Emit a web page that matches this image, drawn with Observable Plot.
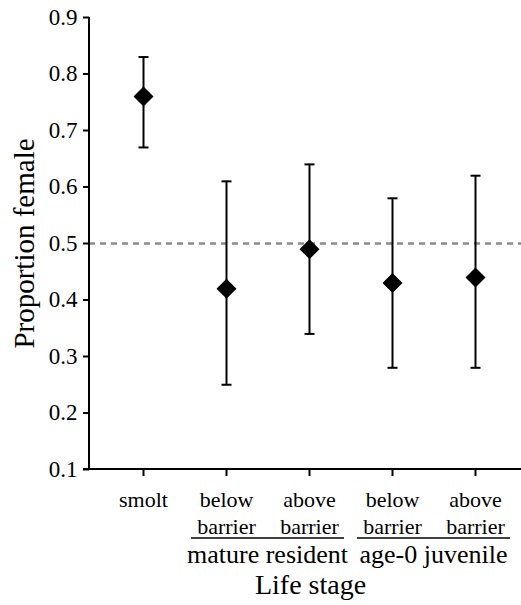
<!DOCTYPE html>
<html><head><meta charset="utf-8">
<script src="https://cdn.jsdelivr.net/npm/d3@7"></script>
<script src="https://cdn.jsdelivr.net/npm/@observablehq/plot@0.6"></script>
<style>
body{margin:0;background:#fff}
#chart svg, #chart svg text{font-family:"Liberation Serif", serif !important;}
#chart .yticks text{font-size:23px !important;}
#chart .xticks text{font-size:22px !important;}
</style>
</head><body><div id="chart"></div>
<script>
const stages = ["smolt", "mr-below", "mr-above", "aj-below", "aj-above"];
const stageLabels = ["smolt", "below\nbarrier", "above\nbarrier", "below\nbarrier", "above\nbarrier"];
const proportion = [0.76, 0.42, 0.49, 0.43, 0.44];
const upper = [0.83, 0.61, 0.64, 0.58, 0.62];
const lower = [0.67, 0.25, 0.34, 0.28, 0.28];
const groupNames = ["mature resident", "age-0 juvenile"];
const groupFirst = ["mr-below", "aj-below"];
const groupLast = ["mr-above", "aj-above"];
const yTicks = [0.1, 0.2, 0.3, 0.4, 0.5, 0.6, 0.7, 0.8, 0.9];
const parity = [0.5];

const data = stages.map((s, i) => ({stage: s, p: proportion[i], lo: lower[i], hi: upper[i]}));
const labelOf = new Map(stages.map((s, i) => [s, stageLabels[i]]));
const capSymbol = {draw(ctx) { ctx.moveTo(-5, 0); ctx.lineTo(5, 0); }};

function axisLines(index, scales, values, dim) {
  const g = d3.create("svg:g").attr("stroke", "black").attr("stroke-width", 2);
  const yb = dim.height - dim.marginBottom;
  g.append("line").attr("x1", dim.marginLeft).attr("x2", dim.marginLeft)
    .attr("y1", dim.marginTop).attr("y2", yb);
  g.append("line").attr("x1", dim.marginLeft - 6).attr("x2", dim.width)
    .attr("y1", yb).attr("y2", yb);
  return g.node();
}

function groupMark(index, scales, values, dim) {
  const x = scales.x;
  const yb = dim.height - dim.marginBottom;
  const g = d3.create("svg:g");
  groupNames.forEach((name, i) => {
    const a = x(groupFirst[i]), b = x(groupLast[i]);
    g.append("line").attr("x1", a - 35).attr("x2", b + 35)
      .attr("y1", yb + 69).attr("y2", yb + 69)
      .attr("stroke", "black").attr("stroke-width", 1.5);
    g.append("text").attr("x", (a + b) / 2).attr("y", yb + 94)
      .attr("text-anchor", "middle").attr("font-size", 26).attr("fill", "black").text(name);
  });
  return g.node();
}

const chart = Plot.plot({
  width: 521,
  height: 605,
  marginLeft: 89,
  marginRight: 0,
  marginTop: 17,
  marginBottom: 136,
  style: {fontFamily: "Liberation Serif", color: "black", background: "white"},
  x: {type: "point", domain: stages, range: [141, 476], padding: 0},
  y: {domain: [0.1, 0.9]},
  marks: [
    Plot.ruleY(parity, {stroke: "#8a8a8a", strokeWidth: 2.5, strokeDasharray: "6,5"}),
    Plot.axisY({ticks: yTicks, tickFormat: d3.format(".1f"), tickSize: 6, tickPadding: 6,
      fontSize: 23, className: "yticks", strokeWidth: 2, label: null}),
    Plot.axisX({tickSize: 7, tickPadding: 11, fontSize: 22, className: "xticks", lineHeight: 1.23,
      tickFormat: d => labelOf.get(d), strokeWidth: 2, label: null}),
    axisLines,
    Plot.ruleX(data, {x: "stage", y1: "lo", y2: "hi", stroke: "black", strokeWidth: 2}),
    Plot.dot(data, {x: "stage", y: "lo", symbol: capSymbol, fill: "none", stroke: "black", strokeWidth: 2}),
    Plot.dot(data, {x: "stage", y: "hi", symbol: capSymbol, fill: "none", stroke: "black", strokeWidth: 2}),
    Plot.dot(data, {x: "stage", y: "p", symbol: "diamond2", r: 9, fill: "black", stroke: "none"}),
    groupMark,
    Plot.text(["Proportion female"], {frameAnchor: "left", rotate: -90, dx: -56, textAnchor: "middle",
      lineAnchor: "bottom", fontSize: 29, fill: "black"}),
    Plot.text(["Life stage"], {frameAnchor: "bottom", dx: 5, dy: 124, textAnchor: "middle", lineAnchor: "bottom",
      fontSize: 28, fill: "black"})
  ]
});
document.getElementById("chart").appendChild(chart);
</script>
</body></html>
